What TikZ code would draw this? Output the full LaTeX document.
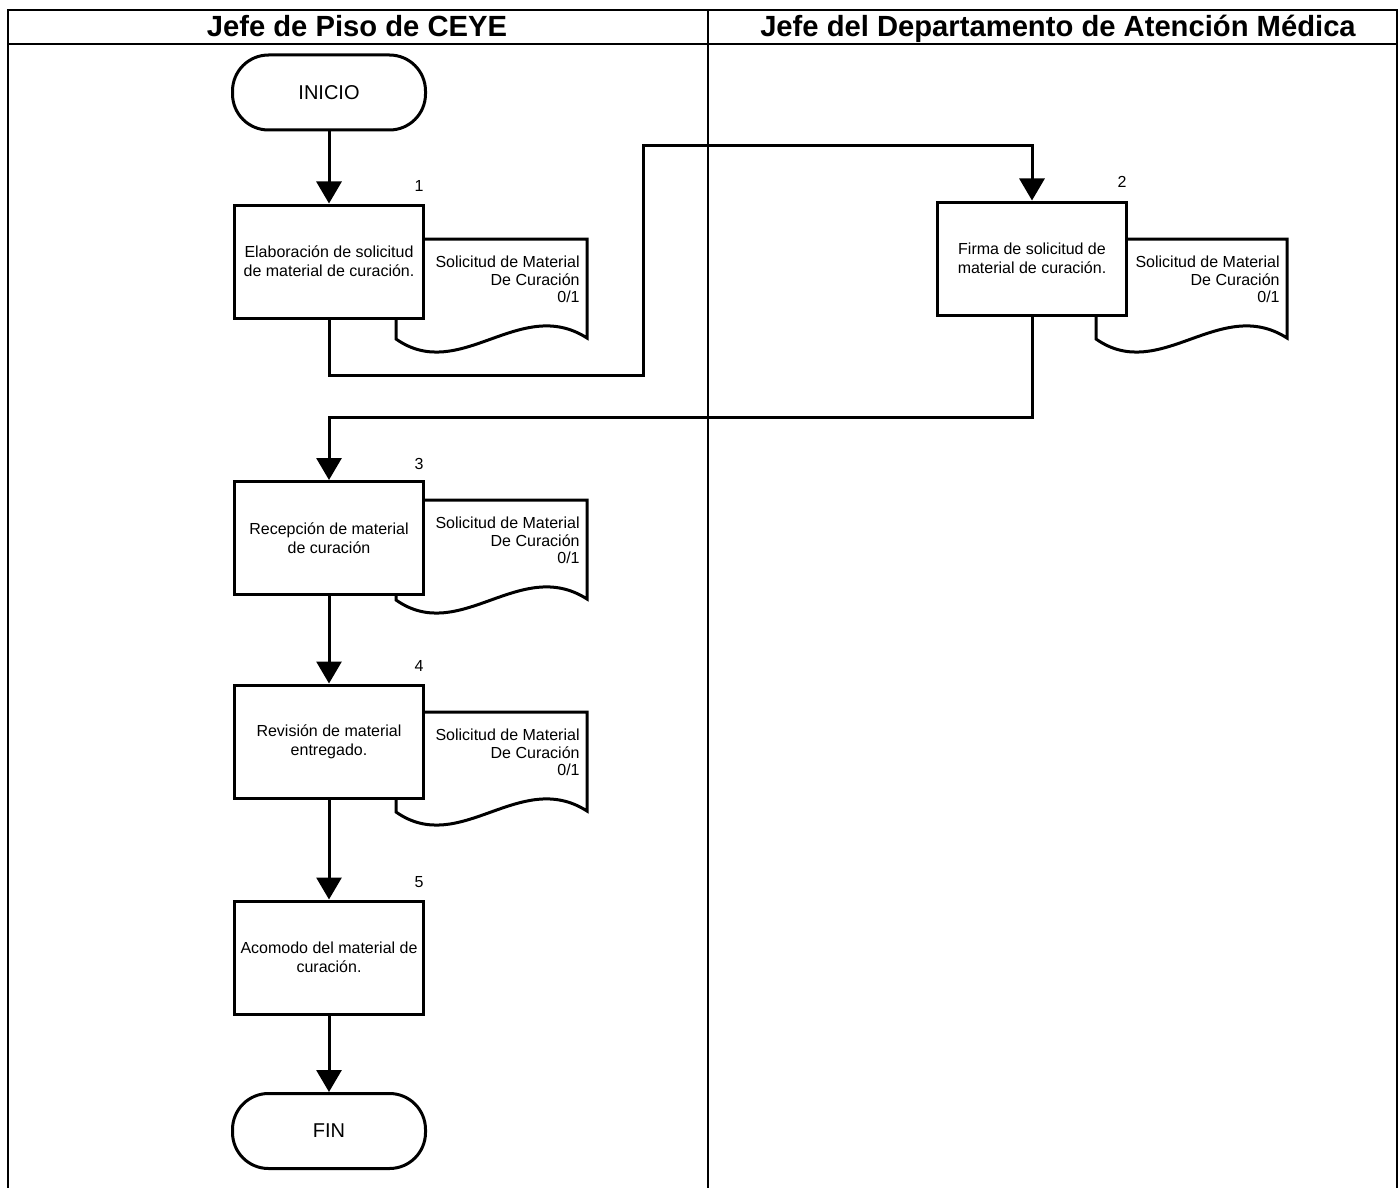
\documentclass[tikz,border=0pt]{standalone}
\usepackage{fontspec}
\setmainfont{Liberation Sans}
\usepackage{tikz}
\usetikzlibrary{arrows.meta,positioning}
\definecolor{tinta}{HTML}{000000}

% hoja de documento: nombre, izquierda, arriba
\newcommand{\solicitud}[3]{%
  \draw[hoja] (#2,#3) -- (#2+191,#3) -- (#2+191,#3+99)
    .. controls (#2+124,#3+56) and (#2+64,#3+145) .. (#2,#3+100) -- cycle;
  \node[textohoja] (#1) at (#2+184,#3+17) {Solicitud de Material\\De Curación\\0/1};
}

\begin{document}
\begin{tikzpicture}[x=0.5pt,y=-0.5pt,line join=miter,
  marco/.style={draw=tinta,line width=1pt},
  actividad/.style={draw=tinta,fill=white,line width=1.5pt,minimum width=94.5pt,
    minimum height=56.5pt,align=center,inner sep=1pt,font=\fontsize{8}{9.4}\selectfont},
  terminal/.style={draw=tinta,fill=white,line width=1.5pt,rounded corners=18pt,
    minimum width=96.5pt,minimum height=37.5pt,font=\fontsize{10}{12}\selectfont},
  hoja/.style={draw=tinta,fill=white,line width=1.5pt},
  textohoja/.style={anchor=north east,inner sep=0pt,align=right,font=\fontsize{8}{8.6}\selectfont},
  numero/.style={inner sep=0pt,font=\fontsize{8}{9.6}\selectfont},
  encabezado/.style={anchor=base,inner sep=0pt,font=\fontsize{14.6}{17}\selectfont\bfseries},
  flecha/.style={draw=tinta,line width=1.5pt,-{Triangle[length=11pt,width=12.5pt]}}]
  \useasboundingbox (0,0) rectangle (1398,1188);

  % carriles
  \draw[marco] (8,1188) -- (8,10) -- (1397,10) -- (1397,1188);
  \draw[marco] (8,44) -- (1397,44);
  \draw[marco] (708,10) -- (708,1188);
  \node[encabezado] (enc1) at (357,37) {Jefe de Piso de CEYE};
  \node[encabezado] (enc2) at (1058,37) {Jefe del Departamento de Atención Médica};

  % documentos
  \solicitud{doc1}{396}{239}
  \solicitud{doc2}{1096}{239}
  \solicitud{doc3}{396}{500}
  \solicitud{doc4}{396}{712}

  % actividades
  \node[terminal] (inicio) at (329,92.5) {INICIO};
  \node[actividad] (act1) at (329,261.5) {Elaboración de solicitud\\de material de curación.};
  \node[actividad] (act2) at (1032,258.5) {Firma de solicitud de\\material de curación.};
  \node[actividad] (act3) at (329,538) {Recepción de material\\de curación};
  \node[actividad] (act4) at (329,741.5) {Revisión de material\\entregado.};
  \node[actividad] (act5) at (329,957.5) {Acomodo del material de\\curación.};
  \node[terminal] (fin) at (329,1131) {FIN};

  \node[numero] (n1) at (419,186) {1};
  \node[numero] (n2) at (1122,182) {2};
  \node[numero] (n3) at (419,464) {3};
  \node[numero] (n4) at (419,666) {4};
  \node[numero] (n5) at (419,882) {5};

  % conectores
  \coordinate (c1) at (643,375);
  \coordinate (c2) at (643,146);
  \coordinate (c3) at (329,417);
  \draw[flecha] (inicio.south) -- (act1.north);
  \draw[flecha] (act1.south) |- (c1) -- (c2) -| (act2.north);
  \draw[flecha] (act2.south) |- (c3) -- (act3.north);
  \draw[flecha] (act3.south) -- (act4.north);
  \draw[flecha] (act4.south) -- (act5.north);
  \draw[flecha] (act5.south) -- (fin.north);
\end{tikzpicture}
\end{document}
